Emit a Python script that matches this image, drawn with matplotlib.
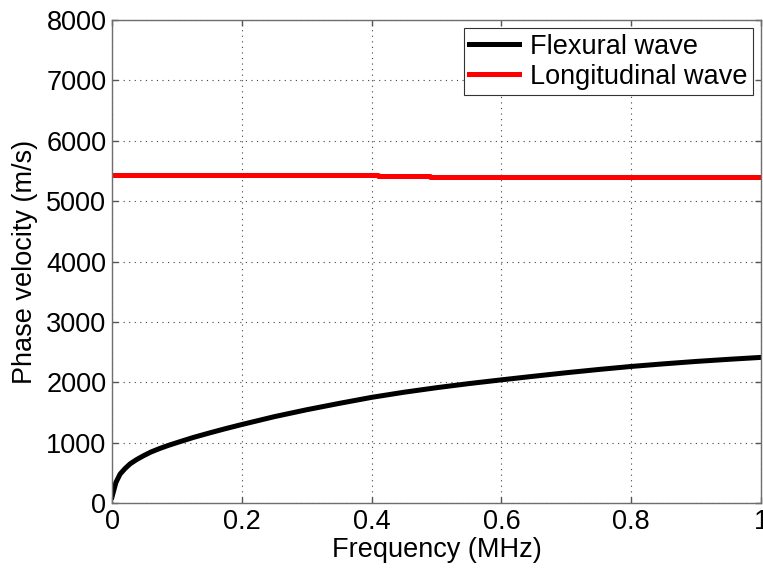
import matplotlib
matplotlib.use('Agg')
import matplotlib.pyplot as plt

plt.rcParams['font.family'] = 'Liberation Sans'
plt.rcParams['font.size'] = 19.5
plt.rcParams['axes.linewidth'] = 1

# flexural wave
flex_freq = [0, 0.0025, 0.006, 0.0125, 0.02, 0.028, 0.038, 0.048, 0.06, 0.074, 0.087,
             0.1, 0.125, 0.15, 0.175, 0.2, 0.25, 0.3, 0.35, 0.4, 0.45, 0.5, 0.55,
             0.6, 0.65, 0.7, 0.75, 0.8, 0.85, 0.9, 0.95, 1.0]
flex_vel = [100, 200, 340, 480, 570, 650, 720, 780, 845, 905, 955,
            1000, 1085, 1160, 1232, 1300, 1430, 1545, 1650, 1750, 1835, 1910, 1978,
            2040, 2100, 2158, 2212, 2262, 2305, 2345, 2380, 2412]

# longitudinal wave, slightly stepped
long_freq = [0, 0.41, 0.49, 0.61, 1.0]
long_vel = [5425, 5418, 5405, 5398, 5398]

fig = plt.figure(figsize=(7.63, 5.68), dpi=100)
ax = fig.add_axes([0.1468, 0.1144, 0.8506, 0.8504])

ax.plot(flex_freq, flex_vel, color='black', lw=3.6, label='Flexural wave')
ax.plot(long_freq, long_vel, color='#ff0000', lw=3.6, drawstyle='steps-post',
        label='Longitudinal wave')

ax.set_xlim(0, 1)
ax.set_ylim(0, 8000)
ax.set_xticks([0, 0.2, 0.4, 0.6, 0.8, 1])
ax.set_xticklabels(['0', '0.2', '0.4', '0.6', '0.8', '1'])
ax.set_yticks(range(0, 8001, 1000))
ax.grid(True, linestyle=(0, (1, 4)), color='#444444', lw=0.8)
ax.tick_params(direction='in', length=4, width=1, color='#555555',
               top=True, right=True, pad=4)
for s in ax.spines.values():
    s.set_color('#6e6e6e')

ax.set_xlabel('Frequency (MHz)', labelpad=2)
ax.set_ylabel('Phase velocity (m/s)', labelpad=6)

leg = ax.legend(loc='upper right', fancybox=False, framealpha=1, edgecolor='#333333',
                handlelength=1.85, borderaxespad=0.3, borderpad=0.2,
                labelspacing=0.15, handletextpad=0.4)
leg.get_frame().set_linewidth(0.8)

fig.savefig('out.png', dpi=100)
